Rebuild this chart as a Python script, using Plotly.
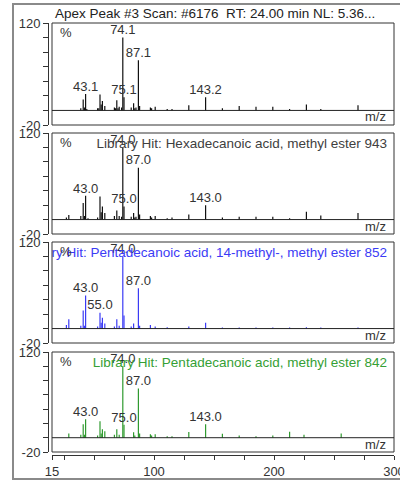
import plotly.graph_objects as go

# ---------------- data ----------------
title_text = "Apex Peak #3 Scan: #6176  RT: 24.00 min NL: 5.36..."

mz_scan = [39, 41, 42, 43, 44, 53, 54, 55, 56, 57, 59, 67, 68, 69, 70, 71, 73, 74, 75,
           81, 83, 84, 85, 87, 88, 97, 98, 101, 111, 115, 129, 143, 157, 171, 185, 199,
           213, 227, 239, 270]
int_scan = [3, 15, 4, 22.7, 2, 3, 3, 22, 8, 13, 6, 4, 3, 14, 3, 5, 4, 100, 18,
            4, 10, 3, 4, 69, 6, 4, 3, 5, 2, 2, 7, 18, 3, 6, 5, 5,
            2, 8, 2, 7]
lbl_scan_mz = [43, 74, 75, 87, 143]
lbl_scan_txt = ["43.1", "74.1", "75.1", "87.1", "143.2"]

hit1_name = "Library Hit: Hexadecanoic acid, methyl ester 943"
mz_hex = [27, 29, 39, 41, 42, 43, 45, 53, 55, 56, 57, 59, 67, 69, 71, 73, 74, 75,
          81, 83, 84, 85, 87, 88, 97, 98, 101, 111, 115, 129, 143, 157, 171, 185, 199,
          213, 227, 239, 270]
int_hex = [3, 6.5, 5, 23, 5, 33, 2, 3, 32, 10, 18, 9, 5, 12.5, 5, 4, 100, 18,
           4, 9, 3, 4, 72, 7, 5, 3, 5, 2, 3, 7, 20, 3, 4, 4, 4,
           2, 11, 5.5, 9]
lbl_hex_mz = [43, 74, 75, 87, 143]
lbl_hex_txt = ["43.0", "74.0", "75.0", "87.0", "143.0"]

hit2_name = "Library Hit: Pentadecanoic acid, 14-methyl-, methyl ester 852"
mz_iso = [27, 29, 39, 41, 42, 43, 53, 55, 56, 57, 59, 67, 69, 71, 74, 75, 81, 83, 87, 88,
          97, 101, 111, 129, 143, 157, 171, 185, 199, 213, 227, 239, 270]
int_iso = [5, 13, 4, 25, 4, 46, 3, 22, 8, 15, 7, 3, 13, 4, 100, 18, 3, 7, 56, 4,
           5, 3, 2, 3, 8, 1.5, 1.5, 1.5, 1.5, 1.5, 2, 1.5, 1.5]
lbl_iso_mz = [43, 55, 74, 87]
lbl_iso_txt = ["43.0", "55.0", "74.0", "87.0"]

hit3_name = "Library Hit: Pentadecanoic acid, methyl ester 842"
mz_c15 = [29, 39, 41, 42, 43, 53, 55, 56, 57, 59, 67, 69, 71, 74, 75, 83, 84, 87, 88,
          97, 98, 101, 111, 115, 129, 143, 157, 171, 185, 199, 213, 225, 256]
int_c15 = [6, 4, 19, 4, 26, 3, 23, 6, 12, 9, 4, 12, 4, 100, 18, 7.5, 3, 69, 6,
           5, 3, 5, 2, 2, 8, 19, 5.5, 3, 2, 3, 8.5, 4, 6]
lbl_c15_mz = [43, 74, 75, 87, 143]
lbl_c15_txt = ["43.0", "74.0", "75.0", "87.0", "143.0"]

y_tickvals = [120, 100, 80, 60, 40, 20, 0, -20]
y_ticktext = ["120", "", "", "", "", "", "", "-20"]
x_tickvals = [15, 25, 50, 75, 100, 125, 150, 175, 200, 225, 250, 275, 300]
x_ticktext = ["15", "", "", "", "100", "", "", "", "200", "", "", "", "300"]

# ---------------- layout constants ----------------
W, H = 400, 481
ML, MR, MT, MB = 48, 6, 23, 26
PW = W - ML - MR
PH = H - MT - MB
BOX_LEFT = 52
XR = [15, 300]
YR = [-20, 120]
FONT = "Arial, Liberation Sans, sans-serif"
TXT = "#333333"

panel_tops = [23, 133, 242, 352]
panel_bots = [125, 234, 343, 452]
plot_bottom_px = MT + PH


def ydom(top, bot):
    return [(plot_bottom_px - bot) / PH, (plot_bottom_px - top) / PH]


panels = [
    dict(mz=mz_scan, it=int_scan, lm=lbl_scan_mz, lt=lbl_scan_txt, color="#111111",
         hit=None, hitcolor=None),
    dict(mz=mz_hex, it=int_hex, lm=lbl_hex_mz, lt=lbl_hex_txt, color="#111111",
         hit=hit1_name, hitcolor="#404040"),
    dict(mz=mz_iso, it=int_iso, lm=lbl_iso_mz, lt=lbl_iso_txt, color="#3b3bf5",
         hit=hit2_name, hitcolor="#3b3bf5"),
    dict(mz=mz_c15, it=int_c15, lm=lbl_c15_mz, lt=lbl_c15_txt, color="#2f9a2f",
         hit=hit3_name, hitcolor="#35a035"),
]

fig = go.Figure()
shapes = []
annotations = []

hit_x = XR[0] + (387 - BOX_LEFT) / (W - MR - BOX_LEFT) * (XR[1] - XR[0])

for i, p in enumerate(panels):
    yname = "y" if i == 0 else f"y{i + 1}"
    lname = "yaxis" if i == 0 else f"yaxis{i + 1}"
    xs, ys = [], []
    for m, v in zip(p["mz"], p["it"]):
        xs += [m, m, None]
        ys += [0, v, None]
    fig.add_trace(go.Scatter(x=xs, y=ys, mode="lines", xaxis="x", yaxis=yname,
                             line=dict(color=p["color"], width=1.2),
                             hoverinfo="skip", showlegend=False))
    lookup = dict(zip(p["mz"], p["it"]))
    fig.add_trace(go.Scatter(x=p["lm"], y=[lookup[m] for m in p["lm"]], mode="text",
                             text=p["lt"], textposition="top center",
                             textfont=dict(family=FONT, size=13, color=TXT),
                             xaxis="x", yaxis=yname, hoverinfo="skip",
                             showlegend=False))
    ph = panel_bots[i] - panel_tops[i]
    if p["hit"]:
        hy = YR[1] - 12 * (YR[1] - YR[0]) / ph
        fig.add_trace(go.Scatter(x=[hit_x], y=[hy], mode="text", text=[p["hit"]],
                                 textposition="middle left",
                                 textfont=dict(family=FONT, size=13.5, color=p["hitcolor"]),
                                 xaxis="x", yaxis=yname, hoverinfo="skip",
                                 showlegend=False))
    fig.layout[lname] = dict(
        domain=ydom(panel_tops[i], panel_bots[i]), range=YR, anchor="free", position=0,
        tickvals=y_tickvals, ticktext=y_ticktext, ticks="outside", ticklen=5,
        tickcolor="#333333", showline=True, linecolor="#333333", linewidth=1,
        showgrid=False, zeroline=False, fixedrange=True, automargin=False,
        tickfont=dict(family=FONT, size=13, color=TXT))
    shapes.append(dict(type="rect", xref="x domain", yref=f"{yname} domain",
                       x0=0, x1=1, y0=0, y1=1, line=dict(color="#333333", width=1)))
    shapes.append(dict(type="line", xref="x domain", yref=yname, x0=0, x1=1, y0=0, y1=0,
                       line=dict(color="#222222", width=1)))
    annotations.append(dict(text="%", xref="x domain", yref=f"{yname} domain",
                            x=(58 - BOX_LEFT) / (W - MR - BOX_LEFT), y=1 - 9 / ph,
                            xanchor="left", yanchor="middle", showarrow=False,
                            font=dict(family=FONT, size=13, color=TXT)))
    annotations.append(dict(text="m/z", xref="x domain", yref=yname,
                            x=(388 - BOX_LEFT) / (W - MR - BOX_LEFT), y=0,
                            xanchor="right", yanchor="top", yshift=3, showarrow=False,
                            font=dict(family=FONT, size=13, color=TXT)))

annotations.append(dict(text=title_text, xref="paper", yref="paper",
                        x=(53 - ML) / PW, y=(plot_bottom_px - 13) / PH,
                        xanchor="left", yanchor="middle", showarrow=False,
                        font=dict(family=FONT, size=13.5, color="#222222")))

shapes.append(dict(type="rect", xref="paper", yref="paper",
                   x0=(13 - ML) / PW, x1=(406 - ML) / PW,
                   y0=(plot_bottom_px - 479) / PH, y1=(plot_bottom_px - 4) / PH,
                   line=dict(color="#8a8a8a", width=2)))

fig.update_layout(
    width=W, height=H, margin=dict(l=ML, r=MR, t=MT, b=MB, pad=0, autoexpand=False),
    paper_bgcolor="white", plot_bgcolor="white", showlegend=False,
    xaxis=dict(domain=[(BOX_LEFT - ML) / PW, 1], range=XR, anchor="free", position=0,
               tickvals=x_tickvals, ticktext=x_ticktext, ticks="outside", ticklen=4,
               tickcolor="#333333", showline=True, linecolor="#333333", linewidth=1,
               showgrid=False, zeroline=False, fixedrange=True, automargin=False,
               ticklabeloverflow="allow",
               tickfont=dict(family=FONT, size=13, color=TXT)),
    shapes=shapes, annotations=annotations,
)

fig.write_html("out.html", config={"staticPlot": True},
               post_script="document.body.style.margin='0';"
                           "document.body.style.overflow='hidden';"
                           "document.documentElement.style.overflow='hidden';")
